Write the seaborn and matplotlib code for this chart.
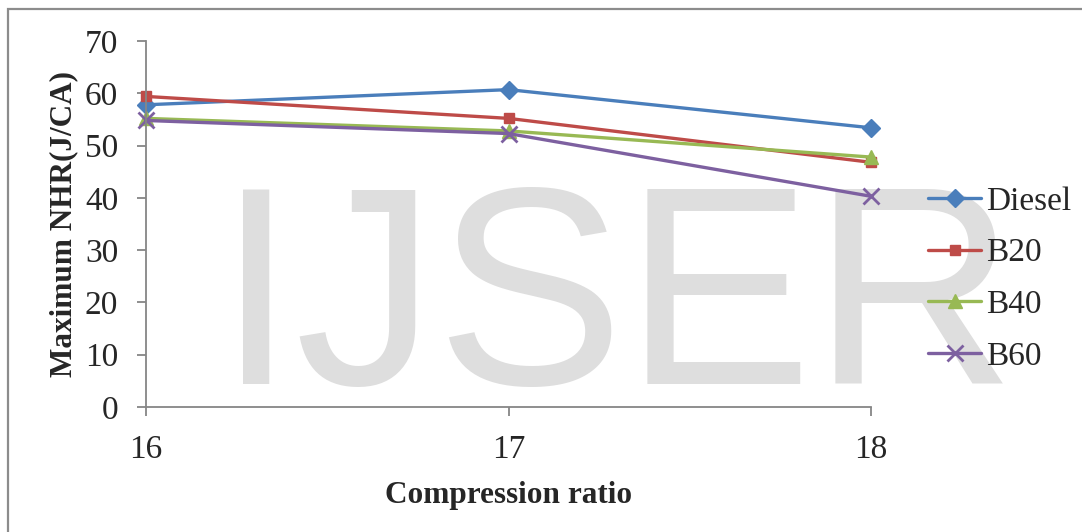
import matplotlib
matplotlib.use("Agg")
import matplotlib.pyplot as plt
from matplotlib.patches import Rectangle
from matplotlib.lines import Line2D
import seaborn as sns
import pandas as pd

# Maximum net heat release rate at each compression ratio
compression_ratio = [16, 17, 18]
diesel = [57.8, 60.7, 53.4]
b20 = [59.4, 55.2, 46.8]
b40 = [55.2, 52.8, 47.8]
b60 = [54.8, 52.3, 40.3]

fuels = ["Diesel", "B20", "B40", "B60"]
series = [diesel, b20, b40, b60]
colors = ["#4A7EBB", "#BE4B48", "#98B954", "#7D60A0"]
markers = ["D", "s", "^", "x"]
marker_sizes = [9, 7.5, 10, 11]

rows = []
for fuel, vals in zip(fuels, series):
    for cr, v in zip(compression_ratio, vals):
        rows.append({"Compression ratio": cr, "NHR": v, "Fuel": fuel})
df = pd.DataFrame(rows)

sns.set_style("white")
plt.rcParams["font.family"] = ["Liberation Serif", "DejaVu Serif"]

W, H = 1082, 532
fig = plt.figure(figsize=(W / 100, H / 100), dpi=100)
fig.patch.set_facecolor("white")

ax = fig.add_axes([146 / W, 1 - 407 / H, (871 - 146) / W, (407 - 41) / H])
ax.patch.set_alpha(0)

# Watermark behind the plot
fig.text(616 / W, 1 - 384 / H, "IJSER", fontsize=203, color="#dedede",
         family="Liberation Sans", ha="center", va="baseline", zorder=-1)

sns.lineplot(data=df, x="Compression ratio", y="NHR", hue="Fuel",
             hue_order=fuels, palette=colors, linewidth=2.4, legend=False,
             ax=ax, clip_on=False)

for line, m, ms, c in zip(ax.get_lines(), markers, marker_sizes, colors):
    line.set_marker(m)
    line.set_markersize(ms)
    line.set_markerfacecolor(c)
    line.set_markeredgecolor(c)
    line.set_markeredgewidth(2 if m == "x" else 1)
    line.set_clip_on(False)

ax.set_xlim(16, 18)
ax.set_ylim(0, 70)
ax.set_xticks(compression_ratio)
ax.set_yticks(range(0, 71, 10))

spine_color = "#868686"
for s in ["top", "right"]:
    ax.spines[s].set_visible(False)
for s in ["left", "bottom"]:
    ax.spines[s].set_color(spine_color)
    ax.spines[s].set_linewidth(1.3)

ax.tick_params(axis="y", direction="out", length=6.5, width=1.3, color=spine_color,
               labelsize=24, pad=13.5, left=True)
ax.tick_params(axis="x", direction="out", length=6.5, width=1.3, color=spine_color,
               labelsize=24, pad=13.5, bottom=True)

ax.set_xlabel("Compression ratio", fontsize=22.5, fontweight="bold", labelpad=11)
ax.set_ylabel("Maximum NHR(J/CA)", fontsize=22.5, fontweight="bold", labelpad=5)

handles = [Line2D([0], [0], color=c, lw=2.4, marker=m, markersize=ms,
                  markerfacecolor=c, markeredgecolor=c,
                  markeredgewidth=2 if m == "x" else 1)
           for c, m, ms in zip(colors, markers, marker_sizes)]
ax.legend(handles, fuels, loc="center left", bbox_to_anchor=(928 / W, 1 - 279 / H),
          bbox_transform=fig.transFigure, frameon=False, fontsize=24,
          handlelength=1.6, handletextpad=0.15, labelspacing=0.64,
          borderpad=0, borderaxespad=0)

# Chart-area border
fig.add_artist(Rectangle((8 / W, -0.1), 1.2, (H - 9) / H + 0.1,
                         transform=fig.transFigure, fill=False,
                         edgecolor="#8c8c8c", linewidth=1.6, zorder=10))

fig.savefig("out.png", dpi=100, facecolor="white")
